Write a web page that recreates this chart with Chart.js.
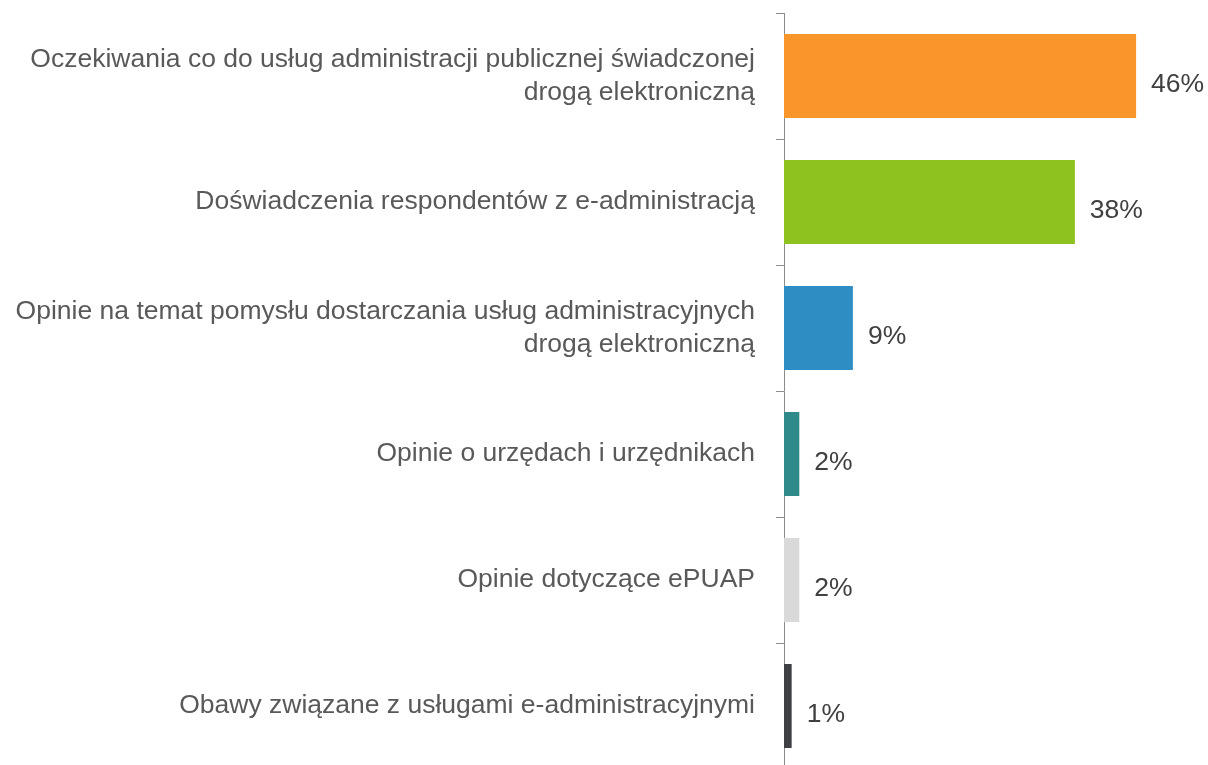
<!DOCTYPE html>
<html lang="pl">
<head>
<meta charset="utf-8">
<script src="https://cdn.jsdelivr.net/npm/chart.js@4"></script>
<style>
    html, body { margin: 0; padding: 0; background: #fff; overflow: hidden; }
    #wrap { position: relative; width: 1208px; height: 769px; }
</style>
</head>
<body>
<div id="wrap"><canvas id="topics-chart"></canvas></div>
<script>
// Tematy wypowiedzi respondentów (% wskazań)
var categories = [
    ['Oczekiwania co do usług administracji publicznej świadczonej', 'drogą elektroniczną'],
    'Doświadczenia respondentów z e-administracją',
    ['Opinie na temat pomysłu dostarczania usług administracyjnych', 'drogą elektroniczną'],
    'Opinie o urzędach i urzędnikach',
    'Opinie dotyczące ePUAP',
    'Obawy związane z usługami e-administracyjnymi'
];
var shares = [46, 38, 9, 2, 2, 1];
var barColors = ['#F8962B', '#8DC21F', '#2E8EC4', '#2F8A89', '#D9D9D9', '#3F4044'];

(function() {
    'use strict';

    var fontFamily = '"Liberation Sans", Arial, sans-serif';
    var axisColor = '#8C8C8C';

    // Percent labels to the right of each bar.
    var valueLabels = {
        id: 'valueLabels',
        afterDatasetsDraw: function(chart) {
            var ctx = chart.ctx;
            var meta = chart.getDatasetMeta(0);
            ctx.save();
            ctx.font = '26.5px ' + fontFamily;
            ctx.fillStyle = '#404040';
            ctx.textAlign = 'left';
            ctx.textBaseline = 'middle';
            meta.data.forEach(function(bar, i) {
                ctx.fillText(shares[i] + '%', bar.x + 15, bar.y + 9);
            });
            ctx.restore();
        }
    };

    var ctx = document.getElementById('topics-chart');
    new Chart(ctx.getContext('2d'), {
        type: 'bar',
        data: {
            labels: categories,
            datasets: [{
                data: shares,
                backgroundColor: barColors,
                borderWidth: 0,
                categoryPercentage: 1,
                barPercentage: 0.667
            }]
        },
        options: {
            indexAxis: 'y',
            responsive: true,
            maintainAspectRatio: false,
            animation: false,
            layout: { padding: { top: 13, right: 3, left: 0, bottom: 0 } },
            plugins: {
                legend: { display: false },
                tooltip: { enabled: false }
            },
            scales: {
                x: {
                    display: false,
                    min: 0,
                    max: 55
                },
                y: {
                    // fixed axis width, no extra room for the multi-line labels
                    afterFit: function(scale) {
                        scale.width = 784;
                        scale.paddingTop = 0;
                        scale.paddingBottom = 0;
                    },
                    border: { display: true, color: axisColor, width: 1 },
                    grid: {
                        offset: true,
                        drawOnChartArea: false,
                        drawTicks: true,
                        tickLength: 8,
                        color: axisColor
                    },
                    ticks: {
                        padding: 21,
                        color: '#595959',
                        font: { family: fontFamily, size: 26.5, lineHeight: 1.245 }
                    }
                }
            }
        },
        plugins: [valueLabels]
    });
})();
</script>
</body>
</html>
